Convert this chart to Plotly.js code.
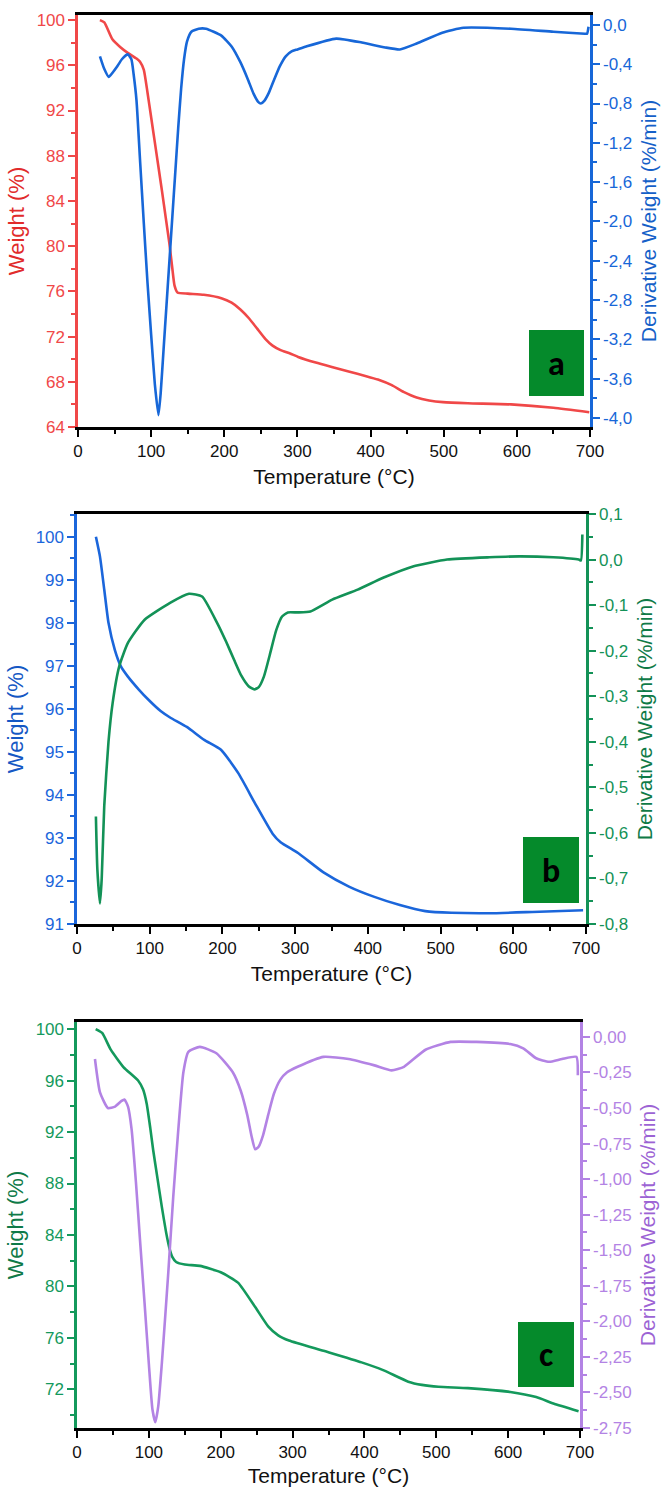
<!DOCTYPE html>
<html><head><meta charset="utf-8">
<script src="https://cdn.plot.ly/plotly-3.0.1.min.js"></script>
<style>html,body{margin:0;padding:0;background:#fff}#chart{width:665px;height:1487px}</style>
</head><body><div id="chart"></div>
<script>
// ---------- Panel a ----------
const tempA_w = [30,36,47,58,68,80,85,90,95,100,105,110,115,120,125,129,132,136,150,172,196,210,222,234,245,256,266,277,290,301,325,347,370,394,410,429,445,463,480,499,533,592,650,699];
const weightA = [100.0,99.8,98.3,97.6,97.1,96.6,96.3,95.6,93.6,91.4,89.2,87.0,84.8,82.5,80.2,78.0,76.5,75.9,75.8,75.7,75.4,75.0,74.4,73.6,72.7,71.8,71.2,70.8,70.5,70.2,69.7,69.3,68.9,68.5,68.2,67.7,67.1,66.6,66.35,66.2,66.1,66.0,65.7,65.3];
const tempA_d = [30,36,42,48,53,60,68,73,76,80,85,90,95,100,105,110,113,117,121,125,129,133,137,141,145,149,155,165,175,196,210,222,232,240,246,250,255,261,268,276,284,292,300,312,353,388,420,440,463,498,527,592,650,693,696,698];
const derivA = [-0.32,-0.45,-0.53,-0.48,-0.43,-0.35,-0.30,-0.35,-0.50,-0.77,-1.40,-2.02,-2.62,-3.15,-3.65,-3.97,-3.75,-3.30,-2.85,-2.40,-1.95,-1.50,-1.05,-0.65,-0.35,-0.17,-0.07,-0.04,-0.04,-0.11,-0.22,-0.38,-0.55,-0.70,-0.78,-0.80,-0.77,-0.69,-0.56,-0.42,-0.32,-0.27,-0.25,-0.22,-0.14,-0.18,-0.23,-0.25,-0.19,-0.08,-0.03,-0.04,-0.07,-0.09,-0.09,-0.02];
const derivTicksA = [0,-0.4,-0.8,-1.2,-1.6,-2.0,-2.4,-2.8,-3.2,-3.6,-4.0];
const derivLabelsA = ["0,0","-0,4","-0,8","-1,2","-1,6","-2,0","-2,4","-2,8","-3,2","-3,6","-4,0"];

// ---------- Panel b ----------
const tempB_w = [26,31.6,37.5,43.3,52,60,70,85,99,115,128,151,175,198,222,245,269,280,304,339,374,409,444,479,515,567,626,696];
const weightB = [100.0,99.54,98.77,98.0,97.37,97.0,96.75,96.45,96.2,95.95,95.8,95.58,95.28,95.05,94.5,93.8,93.1,92.9,92.65,92.2,91.87,91.63,91.44,91.3,91.26,91.25,91.28,91.32];
const tempB_d = [26,28,31.6,34,37.5,43.3,49,58,70,93,128,154,172,193,205,216,226,236,244,250,257,265,274,282,290,304,321,351,386,421,462,509,567,608,655,690,693,695];
const derivB = [-0.564,-0.68,-0.755,-0.70,-0.54,-0.40,-0.315,-0.235,-0.183,-0.132,-0.095,-0.075,-0.081,-0.14,-0.18,-0.22,-0.255,-0.278,-0.285,-0.28,-0.257,-0.21,-0.155,-0.125,-0.116,-0.116,-0.114,-0.088,-0.066,-0.04,-0.015,0.0,0.005,0.007,0.005,0.0,-0.002,0.055];
const derivTicksB = [0.1,0,-0.1,-0.2,-0.3,-0.4,-0.5,-0.6,-0.7,-0.8];
const derivLabelsB = ["0,1","0,0","-0,1","-0,2","-0,3","-0,4","-0,5","-0,6","-0,7","-0,8"];

// ---------- Panel c ----------
const tempC_w = [26,35,47,64.6,85,92,97,102,106,112,118,124,128.5,132.6,138,150,171,200,224,248,266,280,295,343,396,426,461,480,503,544,603,639,663,698];
const weightC = [100.0,99.7,98.4,97.05,96.0,95.3,94.2,92.3,90.6,88.4,86.2,84.2,83.0,82.3,81.9,81.7,81.6,81.1,80.3,78.4,76.9,76.2,75.8,75.0,74.1,73.5,72.6,72.35,72.2,72.1,71.8,71.4,70.9,70.3];
const tempC_d = [25,32,43,53,62,66,71,76,82,88,94,100,105,109,113,118,123,127,134,141,148,155,171,194,217,228,237,243,248,253,259,266,274,283,292,307,343,378,414,438,455,485,520,556,603,621,639,657,675,695,697];
const derivC = [-0.155,-0.39,-0.50,-0.49,-0.45,-0.44,-0.49,-0.65,-1.02,-1.45,-1.87,-2.30,-2.62,-2.71,-2.60,-2.30,-1.95,-1.66,-1.12,-0.65,-0.25,-0.105,-0.07,-0.115,-0.25,-0.38,-0.55,-0.70,-0.79,-0.77,-0.69,-0.55,-0.40,-0.30,-0.25,-0.21,-0.14,-0.155,-0.20,-0.235,-0.21,-0.09,-0.035,-0.035,-0.05,-0.08,-0.15,-0.175,-0.155,-0.14,-0.27];
const derivTicksC = [0,-0.25,-0.5,-0.75,-1.0,-1.25,-1.5,-1.75,-2.0,-2.25,-2.5,-2.75];
const derivLabelsC = ["0,00","-0,25","-0,50","-0,75","-1,00","-1,25","-1,50","-1,75","-2,00","-2,25","-2,50","-2,75"];

const tempTicks = [0,100,200,300,400,500,600,700];
const panelLetters = ["a","b","c"];

// ---------- layout helpers ----------
const W = 665, H = 1487;
const FONT = "Liberation Sans, Arial, sans-serif";
const px = v => v / W;
const py = v => 1 - v / H;

const panels = [
  {l:78, r:590, t:15, b:427, wCol:'#f04848', wTitle:'#e12b2b', dCol:'#1767d8', dTitle:'#1560c8',
   wRange:[64,100.45], wDtick:4, wMinor:2, dRange:[-4.09,0.10], dTicks:derivTicksA, dLabels:derivLabelsA, dMinor:0.2,
   box:[529,584,330,396]},
  {l:77, r:586, t:514, b:924, wCol:'#1b66db', wTitle:'#1558c4', dCol:'#139257', dTitle:'#0f7a47',
   wRange:[91,100.53], wDtick:1, wMinor:0.5, dRange:[-0.8,0.1], dTicks:derivTicksB, dLabels:derivLabelsB, dMinor:0.05,
   box:[523,579,837,903]},
  {l:77, r:580, t:1022, b:1428, wCol:'#14995c', wTitle:'#0f7a48', dCol:'#b383e4', dTitle:'#9c63d4',
   wRange:[69,100.55], wDtick:4, wMinor:2, dRange:[-2.75,0.105], dTicks:derivTicksC, dLabels:derivLabelsC, dMinor:0.125,
   box:[518,574,1322,1387]}
];

const series = [
  [tempA_w, weightA, tempA_d, derivA],
  [tempB_w, weightB, tempB_d, derivB],
  [tempC_w, weightC, tempC_d, derivC]
];

const data = [];
const layout = {
  width: W, height: H,
  margin: {l:0, r:0, t:0, b:0},
  paper_bgcolor: '#fff', plot_bgcolor: '#fff',
  showlegend: false,
  separators: ', ',
  font: {family: FONT, size: 17, color: '#000'},
  shapes: [], annotations: []
};

panels.forEach((p, i) => {
  const n = i + 1;
  const xa = n === 1 ? 'x' : 'x' + n;
  const yl = 'y' + (2 * i + 1 === 1 ? '' : 2 * i + 1);
  const yr = 'y' + (2 * i + 2);
  const [tw, w, td, d] = series[i];
  data.push({x: tw, y: w, xaxis: xa, yaxis: yl, type: 'scatter', mode: 'lines',
    line: {color: p.wCol, width: 2.6, shape: 'spline', smoothing: 0.5}});
  data.push({x: td, y: d, xaxis: xa, yaxis: yr, type: 'scatter', mode: 'lines',
    line: {color: p.dCol, width: 2.6, shape: 'spline', smoothing: 0.5}});

  const xdom = [px(p.l), px(p.r)];
  const ydom = [py(p.b), py(p.t)];
  const xKey = n === 1 ? 'xaxis' : 'xaxis' + n;
  const ylKey = 'yaxis' + (2 * i + 1 === 1 ? '' : 2 * i + 1);
  const yrKey = 'yaxis' + (2 * i + 2);

  layout[xKey] = {
    domain: xdom, anchor: yl, range: [0, 700],
    tickvals: tempTicks, ticks: 'outside', ticklen: 7, tickwidth: 2, tickcolor: '#000',
    showline: true, linecolor: '#000', linewidth: 2.6, mirror: true,
    showgrid: false, zeroline: false,
    tickfont: {family: FONT, size: 17, color: '#111'},
    minor: {dtick: 50, ticks: 'outside', ticklen: 4, tickwidth: 2, tickcolor: '#000', showgrid: false},
    title: {text: 'Temperature (°C)', font: {family: FONT, size: 21, color: '#111'}, standoff: 10}
  };
  layout[ylKey] = {
    domain: ydom, anchor: xa, range: p.wRange, dtick: p.wDtick, tick0: 0,
    ticks: 'outside', ticklen: 7, tickwidth: 2, tickcolor: p.wCol,
    showline: true, linecolor: p.wCol, linewidth: 2.6,
    showgrid: false, zeroline: false,
    tickfont: {family: FONT, size: 17, color: p.wCol},
    minor: {dtick: p.wMinor, tick0: 0, ticks: 'outside', ticklen: 4, tickwidth: 2, tickcolor: p.wCol, showgrid: false},
    title: {text: 'Weight (%)', font: {family: FONT, size: 22, color: p.wTitle}, standoff: 6}
  };
  layout[yrKey] = {
    domain: ydom, anchor: xa, overlaying: yl, side: 'right', range: p.dRange,
    tickvals: p.dTicks, ticktext: p.dLabels,
    ticks: 'outside', ticklen: 7, tickwidth: 2, tickcolor: p.dCol,
    showline: true, linecolor: p.dCol, linewidth: 2.6,
    showgrid: false, zeroline: false,
    tickfont: {family: FONT, size: 17, color: p.dCol},
    minor: {dtick: p.dMinor, tick0: 0, ticks: 'outside', ticklen: 4, tickwidth: 2, tickcolor: p.dCol, showgrid: false},
    title: {text: 'Derivative Weight (%/min)', font: {family: FONT, size: 21, color: p.dTitle}, standoff: 10}
  };

  const [bx0, bx1, by0, by1] = p.box;
  layout.shapes.push({type: 'rect', xref: 'paper', yref: 'paper',
    x0: px(bx0), x1: px(bx1), y0: py(by1), y1: py(by0),
    fillcolor: '#058a2b', line: {width: 0}, layer: 'above'});
  layout.annotations.push({xref: 'paper', yref: 'paper', x: px((bx0 + bx1) / 2), y: py((by0 + by1) / 2),
    text: '<b>' + panelLetters[i] + '</b>', showarrow: false, xanchor: 'center', yanchor: 'middle',
    font: {family: 'Carlito, Lato, Open Sans, sans-serif', size: 34, color: '#000'}});
});

Plotly.newPlot('chart', data, layout, {displayModeBar: false, staticPlot: true});
</script>
</body></html>
